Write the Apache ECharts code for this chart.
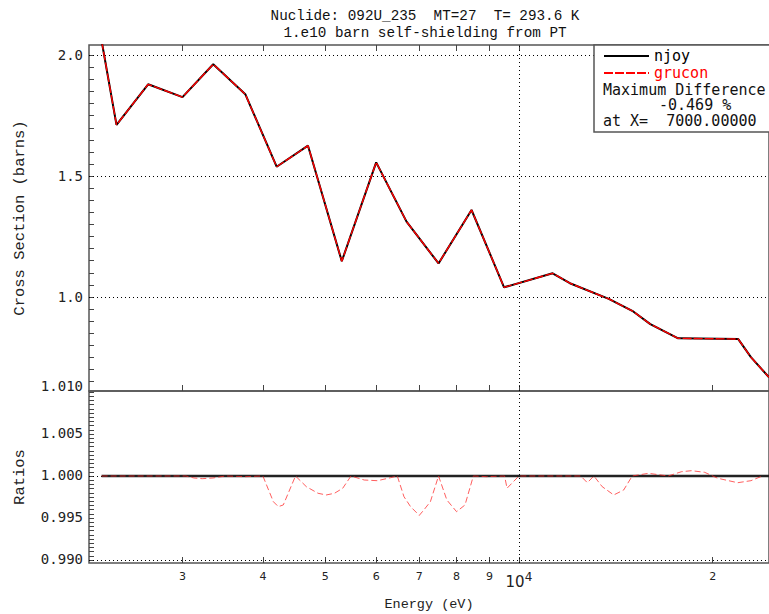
<!DOCTYPE html>
<html>
<head>
<meta charset="utf-8">
<script src="https://cdn.jsdelivr.net/npm/echarts@6/dist/echarts.min.js"></script>
<style>
html,body{margin:0;padding:0;background:#ffffff;}
#chart{width:769px;height:614px;}
</style>
</head>
<body>
<div id="chart"></div>
<script>
// ---- data ----
const energy = [2246, 2369, 2653, 3000, 3349, 3756, 4202, 4701, 5305, 6000, 6688, 7500, 8440, 9482, 11281, 12000, 13792, 15000, 16000, 17677, 21920, 22935, 24470];
const njoyXS = [2.060, 1.712, 1.880, 1.827, 1.963, 1.839, 1.539, 1.626, 1.148, 1.557, 1.312, 1.139, 1.360, 1.040, 1.098, 1.057, 0.992, 0.943, 0.888, 0.829, 0.826, 0.751, 0.668];
const gruconXS = [2.060, 1.712, 1.880, 1.827, 1.963, 1.839, 1.539, 1.626, 1.148, 1.557, 1.312, 1.139, 1.360, 1.040, 1.098, 1.057, 0.992, 0.943, 0.888, 0.829, 0.826, 0.751, 0.668];

const njoyRatioE = [2246, 24470];
const njoyRatio = [1.0, 1.0];
const gruconRatioE = [2246, 3037, 3127, 3219, 3345, 3499, 3756, 4000, 4153, 4227, 4303, 4495, 4673, 4873, 5017, 5168, 5323, 5483, 5750, 6029, 6318, 6471, 6627, 6785, 7000, 7115, 7284, 7500, 7727, 8000, 8245, 8495, 8903, 9500, 9583, 10000, 12474, 12774, 13077, 13471, 14039, 14546, 15000, 15897, 17061, 17890, 18537, 19436, 20370, 21871, 22935, 23902];
const gruconRatio = [1.0, 1.0, 0.99976, 0.99968, 0.99976, 1.0, 0.99992, 1.0, 0.99694, 0.99635, 0.99655, 1.0, 0.99873, 0.99794, 0.99774, 0.99794, 0.99854, 1.0, 0.99952, 0.99944, 0.9998, 1.0, 0.99754, 0.99635, 0.99531, 0.99595, 0.99694, 1.0, 0.99714, 0.99575, 0.99655, 1.0, 0.99992, 1.0, 0.99854, 1.0, 1.0, 0.9992, 1.0, 0.99873, 0.99774, 0.99833, 1.0, 1.00032, 1.0, 1.00051, 1.00063, 1.00044, 0.99973, 0.9992, 0.99944, 1.0];

const xTickValues = [3000, 4000, 5000, 6000, 7000, 8000, 9000, 10000, 20000];
const xTickLabels = ['3', '4', '5', '6', '7', '8', '9', '{b|10}{s|4}', '2'];
const topYLabels = [1.0, 1.5, 2.0];
const botYLabels = [0.990, 0.995, 1.000, 1.005, 1.010];

const titleLines = ['Nuclide: 092U_235  MT=27  T= 293.6 K', '1.e10 barn self-shielding from PT'];
const maxDiffText = ['Maximum Difference', '-0.469 %', 'at X=  7000.00000'];

// ---- axis ranges ----
const xMin = 2147, xMax = 24470;
const topYMin = 0.6111, topYMax = 2.0426;
const botYMin = 0.98964, botYMax = 1.01012;

const topMinor = [];
for (let i = 13; i <= 40; i++) topMinor.push(Math.round(i * 5) / 100);
const botMinor = [];
for (let i = 0; i <= 40; i++) botMinor.push(Math.round((0.990 + i * 0.0005) * 10000) / 10000);

const zip = (a, b) => a.map((v, i) => [v, b[i]]);
const MONO = '"DejaVu Sans Mono", monospace';
const LMONO = '"Liberation Mono", monospace';
const dotted = { color: '#000', width: 1, type: [1, 3] };

const xTickCommon = {
  inside: true, length: 6, customValues: xTickValues,
  lineStyle: { color: '#444', width: 1 }
};

const chart = echarts.init(document.getElementById('chart'), null, { renderer: 'svg' });
chart.setOption({
  animation: false,
  backgroundColor: '#fff',
  textStyle: { fontFamily: MONO },
  title: {
    text: titleLines.join('\n'),
    left: 420, top: 2, textAlign: 'center',
    textStyle: { fontFamily: LMONO, fontSize: 14.3, fontWeight: 'normal', color: '#111', lineHeight: 17 }
  },
  grid: [
    { left: 89, top: 45, width: 686, height: 346, show: true, borderColor: '#555', borderWidth: 1.5, backgroundColor: 'transparent' },
    { left: 89, top: 391, width: 686, height: 172, show: true, borderColor: '#555', borderWidth: 1.5, backgroundColor: 'transparent' }
  ],
  xAxis: [
    { gridIndex: 0, type: 'log', logBase: 10, min: xMin, max: xMax, position: 'bottom',
      axisLine: { show: false }, axisTick: xTickCommon, axisLabel: { show: false }, splitLine: { show: false } },
    { gridIndex: 0, type: 'log', logBase: 10, min: xMin, max: xMax, position: 'top',
      axisLine: { show: false }, axisTick: xTickCommon, axisLabel: { show: false }, splitLine: { show: false } },
    { gridIndex: 1, type: 'log', logBase: 10, min: xMin, max: xMax, position: 'bottom',
      axisLine: { show: false }, axisTick: xTickCommon, splitLine: { show: false },
      axisLabel: {
        customValues: xTickValues, margin: 8, color: '#222', fontFamily: '"DejaVu Sans", sans-serif', fontSize: 11,
        formatter: function (v) { const i = xTickValues.indexOf(v); return i >= 0 ? xTickLabels[i] : ''; },
        rich: {
          b: { fontSize: 15, fontFamily: '"DejaVu Sans", sans-serif', color: '#222', verticalAlign: 'bottom', lineHeight: 18 },
          s: { fontSize: 12, fontFamily: '"DejaVu Sans", sans-serif', color: '#222', verticalAlign: 'top', lineHeight: 18 }
        }
      },
      name: 'Energy (eV)', nameLocation: 'middle', nameGap: 34,
      nameTextStyle: { fontFamily: LMONO, fontSize: 13.5, color: '#222' } }
  ],
  yAxis: [
    { gridIndex: 0, type: 'value', min: topYMin, max: topYMax,
      axisLine: { show: false }, splitLine: { show: false },
      axisTick: { inside: true, length: 5, customValues: topMinor, lineStyle: { color: '#444' } },
      axisLabel: { customValues: topYLabels, margin: 6, color: '#222', fontSize: 14, fontFamily: MONO,
        padding: [0, 0, 4, 0],
        formatter: v => v.toFixed(1) },
      name: 'Cross Section (barns)', nameLocation: 'middle', nameGap: 61, nameRotate: 90,
      nameTextStyle: { fontFamily: LMONO, fontSize: 15.5, color: '#222' } },
    { gridIndex: 1, type: 'value', min: botYMin, max: botYMax,
      axisLine: { show: false }, splitLine: { show: false },
      axisTick: { inside: true, length: 5, customValues: botMinor, lineStyle: { color: '#444' } },
      axisLabel: { customValues: botYLabels, margin: 6, color: '#222', fontSize: 14, fontFamily: MONO,
        padding: [0, 0, 2, 0],
        formatter: v => (Math.abs(v - 1.010) < 1e-6 ? '{up|' + v.toFixed(3) + '}' : v.toFixed(3)),
        rich: { up: { fontSize: 14, fontFamily: MONO, color: '#222', padding: [0, 0, 10, 0] } } },
      name: 'Ratios', nameLocation: 'middle', nameGap: 61, nameRotate: 90,
      nameTextStyle: { fontFamily: LMONO, fontSize: 15.5, color: '#222' } }
  ],
  legend: {
    data: [{ name: 'njoy', textStyle: { color: '#000' } }, { name: 'grucon', textStyle: { color: '#ff0000' } }],
    orient: 'vertical', left: 603, top: 48, padding: 0,
    itemWidth: 45, itemHeight: 8, itemGap: 1, itemTextGap: 11, selectedMode: false, z: 6,
    itemStyle: { opacity: 0, borderWidth: 0 },
    textStyle: { fontFamily: MONO, fontSize: 15, lineHeight: 16 }
  },
  graphic: [
    { type: 'rect', z: 5, shape: { x: 594, y: 45, width: 200, height: 87 },
      style: { fill: '#fff', stroke: '#555', lineWidth: 1.5 } },
    { type: 'text', z: 7, x: 603, y: 89.5, style: { text: maxDiffText[0], fill: '#111', font: '15px ' + MONO, lineHeight: 14, verticalAlign: 'middle' } },
    { type: 'text', z: 7, x: 659, y: 105, style: { text: maxDiffText[1], fill: '#111', font: '15px ' + MONO, lineHeight: 14, verticalAlign: 'middle' } },
    { type: 'text', z: 7, x: 603, y: 120.5, style: { text: maxDiffText[2], fill: '#111', font: '15px ' + MONO, lineHeight: 14, verticalAlign: 'middle' } }
  ],
  series: [
    { name: 'njoy', type: 'line', xAxisIndex: 0, yAxisIndex: 0, data: zip(energy, njoyXS),
      symbol: 'none', clip: true, color: '#000', lineStyle: { color: '#000', width: 2 }, z: 2,
      markLine: { silent: true, symbol: 'none', label: { show: false }, lineStyle: dotted, z: 1,
        data: [{ yAxis: 1.0 }, { yAxis: 1.5 }, { yAxis: 2.0 }, { xAxis: 10000 }] } },
    { name: 'grucon', type: 'line', xAxisIndex: 0, yAxisIndex: 0, data: zip(energy, gruconXS),
      symbol: 'none', clip: true, color: '#ff0000', lineStyle: { color: '#ff0000', width: 1.4, type: [9, 2] }, z: 3 },
    { name: 'njoy ratio', type: 'line', xAxisIndex: 2, yAxisIndex: 1, data: zip(njoyRatioE, njoyRatio),
      symbol: 'none', clip: true, lineStyle: { color: '#222', width: 2.5 }, z: 2,
      markLine: { silent: true, symbol: 'none', label: { show: false }, lineStyle: dotted, z: 1,
        data: [{ yAxis: 0.990 }, { yAxis: 0.995 }, { yAxis: 1.005 }, { xAxis: 10000 }] } },
    { name: 'grucon ratio', type: 'line', xAxisIndex: 2, yAxisIndex: 1, data: zip(gruconRatioE, gruconRatio),
      symbol: 'none', clip: true, lineStyle: { color: 'rgba(255,40,40,0.75)', width: 1, type: [6, 3] }, z: 3 }
  ]
});
</script>
</body>
</html>
